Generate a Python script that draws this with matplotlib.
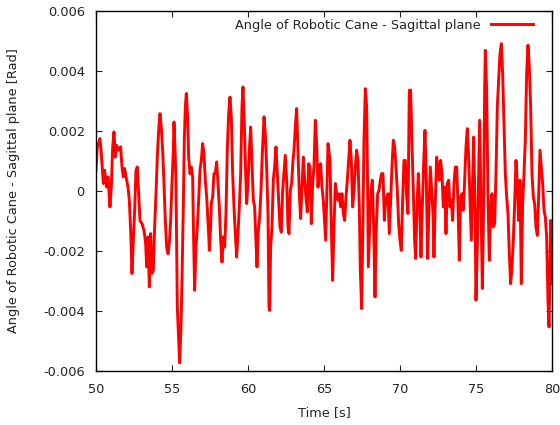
import matplotlib
matplotlib.use('Agg')
import matplotlib.pyplot as plt
import numpy as np

plt.rcParams['font.family'] = ['DejaVu Sans']

# Data - time in s, angle in mrad
time_s = [
    50.000, 50.088, 50.263, 50.351, 50.482, 50.570, 50.701, 50.789, 50.920, 51.008,
    51.096, 51.183, 51.271, 51.359, 51.490, 51.621, 51.709, 51.797, 51.884, 52.016,
    52.103, 52.191, 52.279, 52.366, 52.454, 52.542, 52.629, 52.717, 52.804, 52.892,
    53.023, 53.155, 53.264, 53.330, 53.418, 53.505, 53.593, 53.681, 53.768, 53.855,
    53.943, 54.030, 54.118, 54.206, 54.293, 54.381, 54.469, 54.556, 54.644, 54.731,
    54.819, 54.907, 54.994, 55.082, 55.126, 55.213, 55.257, 55.345, 55.432, 55.498,
    55.586, 55.652, 55.739, 55.805, 55.871, 55.936, 56.024, 56.090, 56.177, 56.265,
    56.352, 56.418, 56.484, 56.572, 56.659, 56.747, 56.834, 56.922, 57.010, 57.097,
    57.185, 57.273, 57.404, 57.448, 57.535, 57.580, 57.667, 57.755, 57.842, 57.930,
    58.018, 58.105, 58.193, 58.281, 58.368, 58.456, 58.543, 58.631, 58.719, 58.806,
    58.894, 58.982, 59.069, 59.157, 59.244, 59.332, 59.420, 59.507, 59.595, 59.661,
    59.748, 59.836, 59.902, 59.989, 60.077, 60.165, 60.252, 60.340, 60.427, 60.515,
    60.581, 60.668, 60.756, 60.844, 60.931, 61.041, 61.128, 61.216, 61.304, 61.369,
    61.413, 61.478, 61.566, 61.653, 61.741, 61.829, 61.916, 62.004, 62.092, 62.179,
    62.267, 62.354, 62.442, 62.530, 62.617, 62.683, 62.771, 62.858, 62.946, 63.012,
    63.099, 63.187, 63.275, 63.362, 63.450, 63.537, 63.625, 63.713, 63.800, 63.888,
    63.976, 64.063, 64.151, 64.238, 64.326, 64.414, 64.501, 64.589, 64.677, 64.764,
    64.852, 64.939, 65.027, 65.093, 65.250, 65.378, 65.465, 65.553, 65.641, 65.728,
    65.816, 65.904, 65.991, 66.079, 66.166, 66.254, 66.342, 66.429, 66.517, 66.605,
    66.692, 66.780, 66.867, 66.955, 67.043, 67.130, 67.218, 67.306, 67.371, 67.459,
    67.525, 67.612, 67.700, 67.788, 67.853, 67.897, 67.985, 68.072, 68.160, 68.248,
    68.335, 68.423, 68.510, 68.598, 68.686, 68.773, 68.861, 68.949, 69.036, 69.189,
    69.276, 69.364, 69.452, 69.539, 69.627, 69.715, 69.802, 69.890, 69.977, 70.065,
    70.153, 70.240, 70.328, 70.416, 70.503, 70.591, 70.678, 70.766, 70.854, 70.941,
    71.007, 71.095, 71.182, 71.270, 71.358, 71.445, 71.533, 71.620, 71.708, 71.796,
    71.883, 71.971, 72.059, 72.146, 72.212, 72.300, 72.387, 72.475, 72.562, 72.650,
    72.738, 72.825, 72.913, 73.001, 73.088, 73.176, 73.264, 73.351, 73.439, 73.527,
    73.614, 73.702, 73.789, 73.877, 73.965, 74.052, 74.140, 74.228, 74.315, 74.403,
    74.490, 74.578, 74.666, 74.753, 74.819, 74.907, 74.972, 75.060, 75.148, 75.213,
    75.301, 75.389, 75.476, 75.542, 75.586, 75.673, 75.761, 75.849, 75.936, 76.024,
    76.111, 76.199, 76.287, 76.374, 76.462, 76.550, 76.637, 76.725, 76.812, 76.900,
    76.988, 77.075, 77.163, 77.250, 77.338, 77.426, 77.513, 77.601, 77.689, 77.776,
    77.864, 77.951, 78.039, 78.127, 78.214, 78.302, 78.390, 78.477, 78.565, 78.652,
    78.740, 78.828, 78.915, 79.003, 79.091, 79.178, 79.266, 79.353, 79.441, 79.529,
    79.616, 79.704, 79.770, 79.835, 79.879, 79.967, 80.000,
]
angle_mrad = [
    0.69, 1.47, 1.75, 1.25, 0.25, 0.69, 0.13, 0.47, -0.53, 0.13,
    1.47, 1.97, 1.13, 1.52, 1.36, 1.47, 0.80, 0.47, 0.75, 0.36,
    0.13, -0.31, -1.31, -2.75, -1.64, -0.64, 0.69, 0.80, -0.09, -0.98,
    -1.09, -1.31, -1.75, -2.53, -1.53, -3.20, -1.42, -2.75, -2.64, -1.20,
    -0.09, 1.13, 2.02, 2.58, 2.13, 1.36, 0.25, -0.98, -1.87, -2.09,
    -1.75, -0.98, 0.25, 1.36, 2.30, 1.13, 0.25, -3.87, -4.98, -5.73,
    -4.53, -2.98, -0.53, 1.69, 2.80, 3.25, 2.47, 1.13, 0.58, 0.80,
    0.47, -1.64, -3.31, -1.87, -1.20, -0.31, 0.69, 1.02, 1.58, 1.25,
    0.36, -0.20, -1.42, -1.98, -1.20, -0.42, -0.20, 0.58, 0.58, 0.97,
    0.25, -0.53, -1.64, -2.37, -1.53, -1.87, -0.75, 1.36, 2.58, 3.13,
    2.47, 0.58, -0.53, -1.42, -2.20, -1.42, -0.53, 0.58, 2.80, 3.47,
    2.25, 0.58, -0.42, 0.25, 1.36, 2.13, 0.91, -0.31, -0.53, -1.64,
    -2.53, -1.31, -0.87, 0.02, 1.25, 2.47, 1.91, 0.80, -0.75, -3.87,
    -3.98, -1.87, -1.20, 0.36, 0.80, 1.47, 0.58, -0.31, -1.20, -1.37,
    0.02, 0.58, 1.19, 0.36, -1.20, -1.42, 0.02, 0.25, 1.02, 1.36,
    2.13, 2.75, 1.36, -0.09, -0.92, 0.13, 1.13, 0.36, -0.20, -0.70,
    0.91, 0.80, -1.09, 0.25, 0.80, 2.36, 1.58, 0.13, 0.80, 0.91,
    0.13, -0.31, -1.09, -1.64, 1.58, 1.02, -1.20, -2.98, -1.20, 0.25,
    -0.09, -0.31, -0.09, -0.53, -0.09, -0.75, -0.98, -0.20, 0.36, 1.02,
    1.69, 1.02, -0.53, 0.02, 0.80, 1.36, 1.02, -0.53, -2.64, -3.92,
    -1.64, 1.69, 3.41, 2.80, 0.02, -2.53, -1.20, 0.02, 0.36, -1.20,
    -3.53, -1.20, -0.09, 0.02, 0.36, 0.58, 0.58, -0.98, -0.31, -0.09,
    -1.42, -0.31, 0.80, 1.69, 1.47, 0.80, 0.02, -1.09, -1.64, -1.98,
    -0.31, 1.02, 1.02, -0.20, -0.75, 3.36, 3.36, 1.58, 0.02, -1.64,
    -2.25, -0.53, 0.58, -0.42, -2.20, -0.53, 0.91, 2.02, 0.36, -2.25,
    -0.53, 0.80, 0.02, -0.75, -2.20, -0.31, 1.13, 0.80, 0.36, 1.02,
    0.58, -0.53, 0.13, -1.42, 0.25, 0.36, -0.53, -0.31, -0.98, 0.25,
    0.80, 0.80, -0.42, -2.31, -0.20, -0.09, -0.64, 0.36, 1.47, 2.08,
    1.13, -0.31, -1.64, 0.36, 1.80, -0.53, -3.64, -1.87, 0.58, 2.36,
    -0.53, -3.25, -0.53, 3.36, 4.69, 3.36, -0.20, -2.31, -0.53, -0.09,
    -1.20, -1.09, 0.58, 2.80, 3.69, 4.58, 4.91, 3.91, 2.25, 0.58,
    -0.20, -0.75, -2.09, -3.09, -2.53, -1.64, -0.42, 1.02, 0.25, -0.98,
    0.36, -3.09, -0.42, 0.58, 1.69, 3.91, 4.86, 4.13, 2.80, 0.58,
    -0.20, -0.42, -1.20, -1.48, -0.20, 1.36, 0.80, 0.25, -0.64, -0.87,
    -1.53, -3.64, -4.53, -2.75, -0.98, -1.20, -3.09,
]

x_ticks = [50, 55, 60, 65, 70, 75, 80]
y_ticks = [-0.006, -0.004, -0.002, 0, 0.002, 0.004, 0.006]
y_tick_labels = ['-0.006', '-0.004', '-0.002', '0', '0.002', '0.004', '0.006']

angle = np.array(angle_mrad) * 1e-3

fs = 9.3
fig = plt.figure(figsize=(5.6, 4.25), dpi=100)
ax = fig.add_axes([0.1714, 0.1271, 0.8152, 0.847])

ax.plot(time_s, angle, color='#ff0000', linewidth=2.1,
        label='Angle of Robotic Cane - Sagittal plane')

ax.set_xlim(50, 80)
ax.set_ylim(-0.006, 0.006)
ax.set_xticks(x_ticks)
ax.set_xticklabels([str(t) for t in x_ticks])
ax.set_yticks(y_ticks)
ax.set_yticklabels(y_tick_labels)

ax.tick_params(direction='in', length=4, width=0.8, top=True, right=True,
               labelsize=fs, colors='#222222')
ax.tick_params(axis='x', pad=9)
ax.tick_params(axis='y', pad=8)
for s in ax.spines.values():
    s.set_linewidth(1.0)
    s.set_color('black')

ax.set_xlabel('Time [s]', fontsize=fs, labelpad=7, color='#222222')
ax.set_ylabel('Angle of Robotic Cane - Sagittal plane [Rad]', fontsize=fs,
              labelpad=17, color='#222222')

ax.legend(loc='upper right', frameon=False, markerfirst=False, fontsize=fs,
          handlelength=3.3, borderaxespad=0.2, bbox_to_anchor=(0.975, 1.0),
          labelcolor='#222222')

plt.savefig('out.png', dpi=100, facecolor='white')
